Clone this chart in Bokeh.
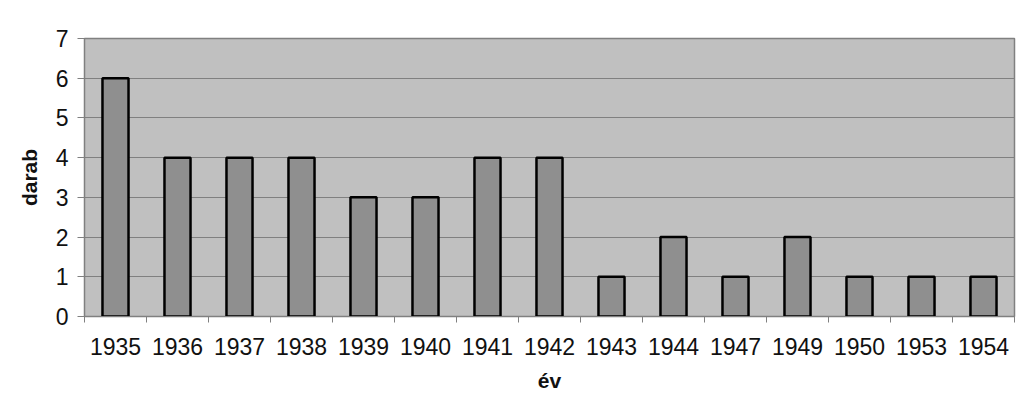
from bokeh.plotting import figure
from bokeh.models import FixedTicker, Range1d
from bokeh.embed import file_html
from bokeh.resources import INLINE

years = ["1935", "1936", "1937", "1938", "1939", "1940", "1941", "1942",
         "1943", "1944", "1947", "1949", "1950", "1953", "1954"]
counts = [6, 4, 4, 4, 3, 3, 4, 4, 1, 2, 1, 2, 1, 1, 1]

n = len(years)
xs = [i + 0.5 for i in range(n)]

p = figure(width=1016, height=394, output_backend="svg", toolbar_location=None,
           x_range=Range1d(0, n), y_range=Range1d(0, 7),
           min_border_left=84, min_border_right=2, min_border_top=38, min_border_bottom=10)
p.background_fill_color = "#c0c0c0"
p.border_fill_color = "white"
p.outline_line_color = "#808080"
p.outline_line_width = 1.5

p.vbar(x=xs, top=counts, width=0.42, bottom=0, fill_color="#8f8f8f",
       line_color="black", line_width=2.5)

font = "Liberation Sans"
xa = p.xaxis[0]
xa.ticker = FixedTicker(ticks=xs, minor_ticks=list(range(n + 1)))
xa.major_label_overrides = {x: y for x, y in zip(xs, years)}
xa.major_tick_out = 0
xa.major_tick_in = 0
xa.minor_tick_out = 6
xa.minor_tick_in = 0
xa.minor_tick_line_color = "#808080"
xa.axis_line_color = "#808080"
xa.major_label_text_font = font
xa.major_label_text_font_size = "23px"
xa.major_label_text_color = "#111111"
xa.major_label_standoff = 15
xa.axis_label = "év"
xa.axis_label_text_font = font
xa.axis_label_text_font_style = "bold"
xa.axis_label_text_font_size = "21px"
xa.axis_label_text_color = "#111111"
xa.axis_label_standoff = 11

ya = p.yaxis[0]
ya.ticker = FixedTicker(ticks=list(range(8)))
ya.minor_tick_line_color = None
ya.major_tick_out = 7
ya.major_tick_in = 0
ya.major_tick_line_color = "#808080"
ya.axis_line_color = "#808080"
ya.major_label_text_font = font
ya.major_label_text_font_size = "23px"
ya.major_label_text_color = "#111111"
ya.major_label_standoff = 9
ya.axis_label = "darab"
ya.axis_label_text_font = font
ya.axis_label_text_font_style = "bold"
ya.axis_label_text_font_size = "21px"
ya.axis_label_text_color = "#111111"
ya.axis_label_standoff = 12

p.xgrid.grid_line_color = None
p.ygrid.grid_line_color = "#808080"
p.ygrid.grid_line_width = 1.2

open("out.html", "w").write(file_html(p, INLINE))
